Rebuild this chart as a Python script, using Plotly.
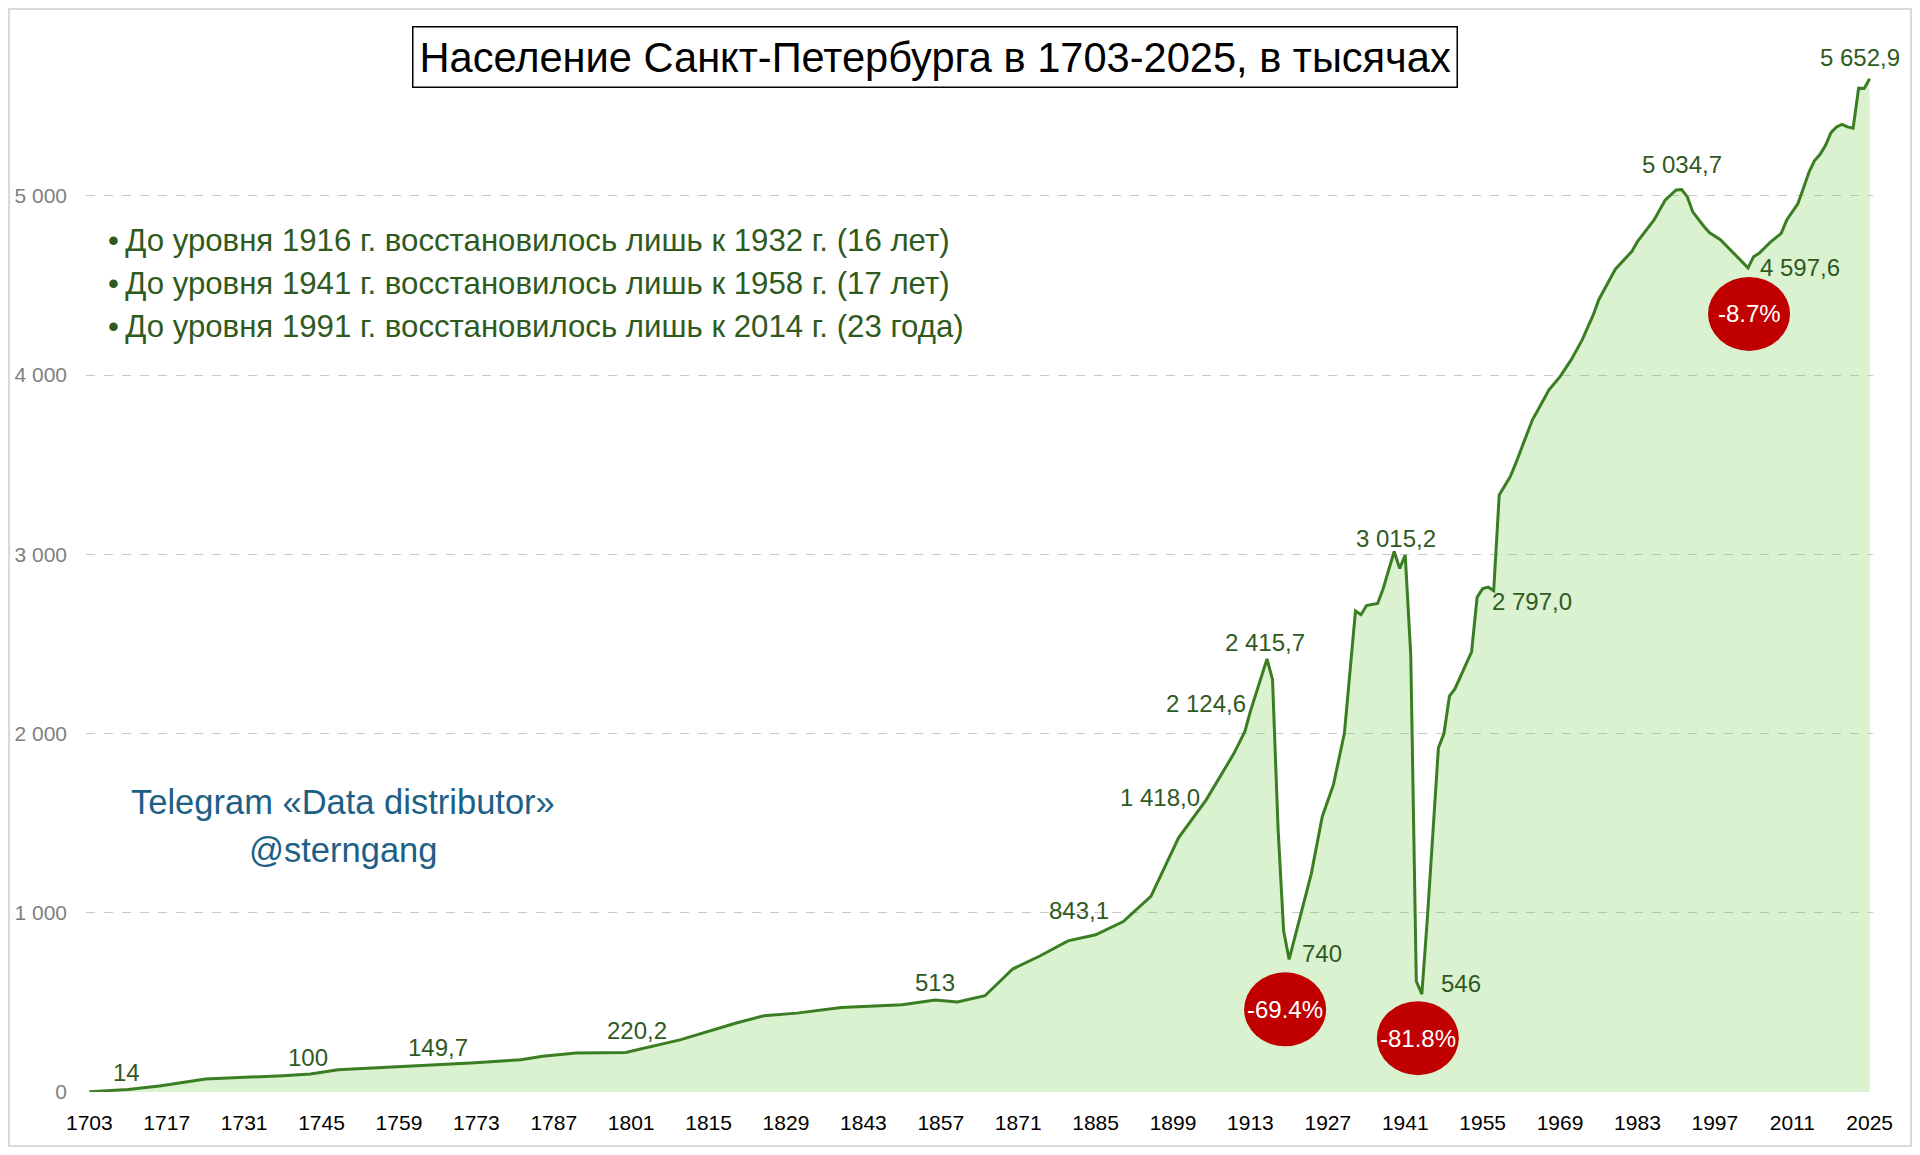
import plotly.graph_objects as go

# population of St. Petersburg, thousands
years = [1703, 1710, 1716, 1724, 1738, 1743, 1748, 1760, 1766, 1772, 1781, 1785, 1791, 1800,
         1810, 1815, 1820, 1825, 1831, 1839, 1850, 1856, 1860, 1865, 1870, 1875, 1880, 1885,
         1890, 1895, 1900, 1905, 1910, 1912, 1913, 1916, 1917, 1918, 1919, 1920, 1924, 1926,
         1928, 1930, 1932, 1933, 1934, 1936, 1937, 1939, 1940, 1941, 1942, 1943, 1944, 1945,
         1947, 1948, 1949, 1950, 1953, 1954, 1955, 1956, 1957, 1958, 1960, 1961, 1963, 1964,
         1965, 1967, 1969, 1971, 1973, 1975, 1976, 1979, 1982, 1983, 1986, 1988, 1990, 1991,
         1992, 1993, 1995, 1996, 1998, 2000, 2003, 2004, 2005, 2007, 2008, 2009, 2010, 2012,
         2013, 2014, 2015, 2016, 2017, 2018, 2019, 2020, 2021, 2022, 2023, 2024, 2025]
population = [2, 14, 35, 72, 91, 100, 124, 143, 149.7, 162, 180, 199, 218, 220.2,
              292, 338, 385, 425, 440, 472, 487, 513, 502, 537, 686, 760, 843.1, 877,
              951, 1091, 1418.0, 1630, 1888, 2012, 2124.6, 2415.7, 2300, 1469, 900, 740, 1217, 1537,
              1713, 2002, 2684, 2663, 2714, 2725, 2808, 3015.2, 2921, 2995, 2436, 618, 546, 969,
              1920, 2000, 2209, 2250, 2456, 2760, 2808, 2816, 2797.0, 3331, 3433, 3508, 3675, 3750,
              3805, 3917, 3991, 4084, 4196, 4335, 4420, 4590, 4690, 4745, 4865, 4975, 5032, 5034.7,
              4995, 4910, 4830, 4795, 4755, 4690, 4597.6, 4660, 4679, 4740, 4763, 4790, 4865, 4955,
              5040, 5130, 5195, 5230, 5280, 5352, 5384, 5398, 5384, 5377, 5600, 5598, 5652.9]

# labelled points
label_years = [1710, 1743, 1766, 1800, 1856, 1880, 1900, 1913, 1916, 1920, 1939, 1944, 1957, 1991, 2003, 2025]
label_decimals = [0, 0, 1, 1, 0, 1, 1, 1, 1, 0, 1, 0, 1, 1, 1, 1]
label_shift = [(-2, 17), (-2, 17), (0, 18), (11, 22), (0, 18), (11, 30), (-19, 40), (-44, 8),
               (-2, 16), (33, 6), (2, 13), (39, 11), (38, -11), (0, 25), (52, 0), (-10, 21)]

# drops: (peak year, trough year)
drop_pairs = [(1916, 1920), (1941, 1944), (1991, 2003)]
drop_center = [(-4, -50), (-4, -44), (1, -46)]

x_ticks = list(range(1703, 2026, 14))

notes = [
    "До уровня 1916 г. восстановилось лишь к 1932 г. (16 лет)",
    "До уровня 1941 г. восстановилось лишь к 1958 г. (17 лет)",
    "До уровня 1991 г. восстановилось лишь к 2014 г. (23 года)",
]

title = "Население Санкт-Петербурга в 1703-2025, в тысячах"
signature = ["Telegram «Data distributor»", "@sterngang"]

# page body has an 8px margin, so the figure is a bit smaller than the window
OFF = 8
W, H = 1904, 1139
L, R, T, B = 78, 39, 18, 55
FONT = "Liberation Sans, Arial, sans-serif"
LINE = "#3B7D23"
FILL = "rgba(107,203,67,0.25)"
TEXT_GREEN = "#2F5A1E"


def paper(sx, sy):
    # screen pixel -> paper fraction
    px, py = sx - OFF, sy - OFF
    return (px - L) / (W - L - R), (H - B - py) / (H - T - B)


def fmt(v, dec):
    s = f"{v:,.{dec}f}"
    return s.replace(",", " ").replace(".", ",")


pop = dict(zip(years, population))

fig = go.Figure()
fig.add_trace(go.Scatter(x=years, y=population, mode="lines",
                         line=dict(color=LINE, width=3),
                         fill="tozeroy", fillcolor=FILL,
                         hoverinfo="x+y", showlegend=False))

annotations = []
for yr, dec, (dx, dy) in zip(label_years, label_decimals, label_shift):
    annotations.append(dict(x=yr, y=pop[yr], xref="x", yref="y", text=fmt(pop[yr], dec),
                            showarrow=False, xshift=dx, yshift=dy,
                            xanchor="center", yanchor="middle",
                            font=dict(family=FONT, size=24, color=TEXT_GREEN)))

shapes = []
for (hi, lo), (cx, cy) in zip(drop_pairs, drop_center):
    pct = (pop[lo] / pop[hi] - 1) * 100
    shapes.append(dict(type="circle", xref="x", yref="y", xsizemode="pixel", ysizemode="pixel",
                       xanchor=lo, yanchor=pop[lo],
                       x0=cx - 41, x1=cx + 41, y0=cy - 37, y1=cy + 37,
                       fillcolor="#C00000", line=dict(width=0), layer="above"))
    annotations.append(dict(x=lo, y=pop[lo], xref="x", yref="y", text=f"{pct:.1f}%",
                            showarrow=False, xshift=cx, yshift=cy,
                            xanchor="center", yanchor="middle",
                            font=dict(family=FONT, size=24, color="white")))

tx, ty = paper(935, 57)
annotations.append(dict(x=tx, y=ty, xref="paper", yref="paper", text=title, showarrow=False,
                        xanchor="center", yanchor="middle",
                        font=dict(family=FONT, size=41.6, color="black"),
                        bordercolor="black", borderwidth=1.5, borderpad=6, bgcolor="white"))

for i, line in enumerate(notes):
    nx, ny = paper(106, 240 + i * 43.5)
    annotations.append(dict(x=nx, y=ny, xref="paper", yref="paper", text="•\u2009" + line,
                            showarrow=False, xanchor="left", yanchor="middle",
                            font=dict(family=FONT, size=31.2, color=TEXT_GREEN)))

for i, line in enumerate(signature):
    sx, sy = paper(343, 802 + i * 48)
    annotations.append(dict(x=sx, y=sy, xref="paper", yref="paper", text=line,
                            showarrow=False, xanchor="center", yanchor="middle",
                            font=dict(family=FONT, size=34.5, color="#1D6085")))

# thin frame around the picture
fx0, fy0 = paper(OFF + 1, OFF + H - 1)
fx1, fy1 = paper(OFF + W - 1, OFF + 1)
shapes.append(dict(type="rect", xref="paper", yref="paper", x0=fx0, y0=fy0, x1=fx1, y1=fy1,
                   line=dict(color="#D9D9D9", width=2), layer="below"))

fig.update_layout(
    width=W, height=H,
    margin=dict(l=L, r=R, t=T, b=B),
    paper_bgcolor="white", plot_bgcolor="white",
    separators=", ",
    xaxis=dict(range=[1702.4, 2025.6], tickvals=x_ticks, showgrid=False, zeroline=False,
               showline=False, ticks="", ticklabelstandoff=16, automargin=False,
               tickfont=dict(family=FONT, size=21, color="black")),
    yaxis=dict(range=[0, 5947], dtick=1000, tickformat=",d", showgrid=True,
               gridcolor="#C8C8C8", griddash="dash", gridwidth=1, zeroline=False,
               showline=False, ticks="", ticklabelstandoff=18, automargin=False,
               tickfont=dict(family=FONT, size=21, color="#7F7F7F")),
    annotations=annotations,
    shapes=shapes,
    showlegend=False,
)

fig.write_html("out.html")
